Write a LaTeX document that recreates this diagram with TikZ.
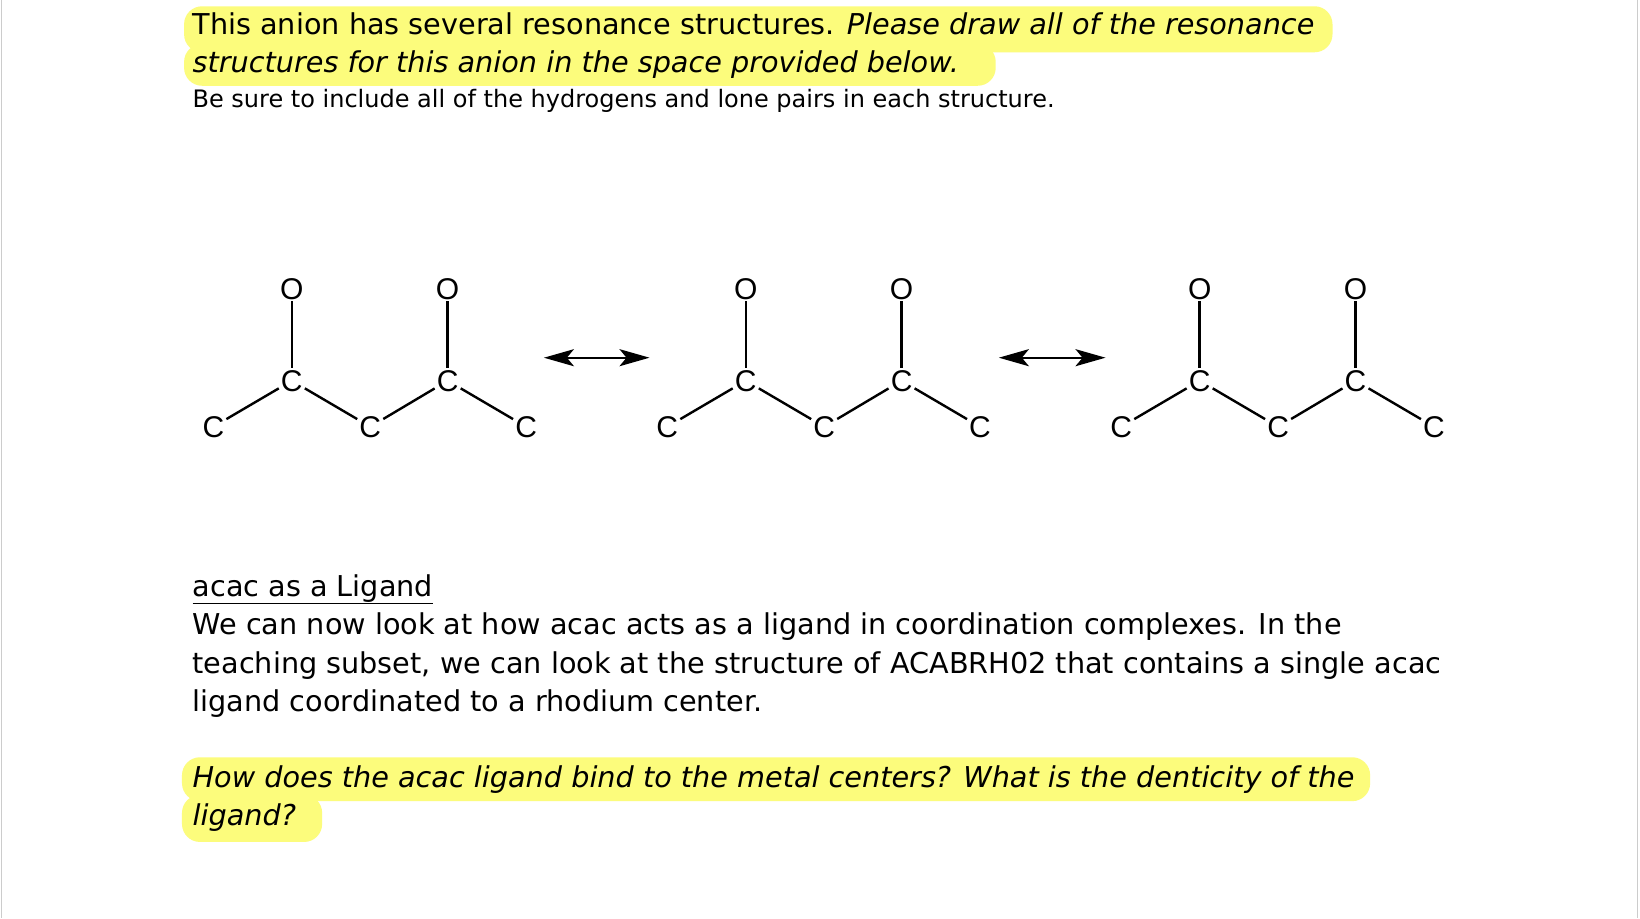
\documentclass[tikz,border=0pt]{standalone}
\usepackage{fontspec}
\setmainfont{DejaVu Sans}
\newfontfamily\molfont{Liberation Sans}
\usetikzlibrary{arrows.meta}
\definecolor{hl}{HTML}{FCFC7C}
\tikzset{
  txt/.style={anchor=base west,inner sep=0pt,font=\fontsize{28.7}{34}\selectfont},
  small/.style={anchor=base west,inner sep=0pt,font=\fontsize{24}{30}\selectfont},
  atom/.style={inner sep=2pt,font=\molfont\fontsize{30}{30}\selectfont},
  bond/.style={line width=2.4pt},
  hlbox/.style={fill=hl,rounded corners=18pt},
  resarrow/.style={line width=2.4pt,{Stealth[length=30pt,width=17pt,inset=7pt]}-{Stealth[length=30pt,width=17pt,inset=7pt]}}
}
\begin{document}
\begin{tikzpicture}[x=1.046pt,y=-1.046pt]
\useasboundingbox (0,0) rectangle (1568,878);
\fill[white] (0,0) rectangle (1568,878);
\draw[gray!40,line width=1pt] (1,0)--(1,878) (1566,0)--(1566,878);
% highlights
\fill[hlbox] (176,6) rectangle (1274,50);
\fill[hlbox] (176,42) rectangle (952,82);
\fill[hlbox] (174,724) rectangle (1310,766);
\fill[hlbox] (174,760) rectangle (308,805);
% texts
\node[txt] (t1) at (184,33) {This anion has several resonance structures. \textit{Please draw all of the resonance}};
\node[txt] (t2) at (184,69) {\textit{structures for this anion in the space provided below.}};
\node[small] (t3) at (184,103) {Be sure to include all of the hydrogens and lone pairs in each structure.};
\node[txt] (h) at (184,570) {\underline{acac as a Ligand}};
\node[txt] (p1) at (184,607) {We can now look at how acac acts as a ligand in coordination complexes. In the};
\node[txt] (p2) at (184,644) {teaching subset, we can look at the structure of ACABRH02 that contains a single acac};
\node[txt] (p3) at (184,680) {ligand coordinated to a rhodium center.};
\node[txt] (q1) at (184,753) {\textit{How does the acac ligand bind to the metal centers? What is the denticity of the}};
\node[txt] (q2) at (184,789) {\textit{ligand?}};
% molecules
\foreach \i/\dx in {a/0,b/434,c/868}{
  \begin{scope}[xshift=\dx*1.046pt]
  \node[atom] (\i O1) at (279,276) {O};
  \node[atom] (\i O2) at (428,276) {O};
  \node[atom] (\i C2) at (279,364) {C};
  \node[atom] (\i C4) at (428,364) {C};
  \node[atom] (\i C1) at (204,408) {C};
  \node[atom] (\i C3) at (354,408) {C};
  \node[atom] (\i C5) at (503,408) {C};
  \end{scope}
  \draw[bond] (\i O1)--(\i C2);
  \draw[bond] (\i O2)--(\i C4);
  \draw[bond] (\i C1)--(\i C2);
  \draw[bond] (\i C2)--(\i C3);
  \draw[bond] (\i C3)--(\i C4);
  \draw[bond] (\i C4)--(\i C5);
}
\coordinate (r1a) at (520,342); \coordinate (r1b) at (621,342);
\coordinate (r2a) at (955,342); \coordinate (r2b) at (1057,342);
\draw[resarrow] (r1a)--(r1b);
\draw[resarrow] (r2a)--(r2b);
\end{tikzpicture}
\end{document}
